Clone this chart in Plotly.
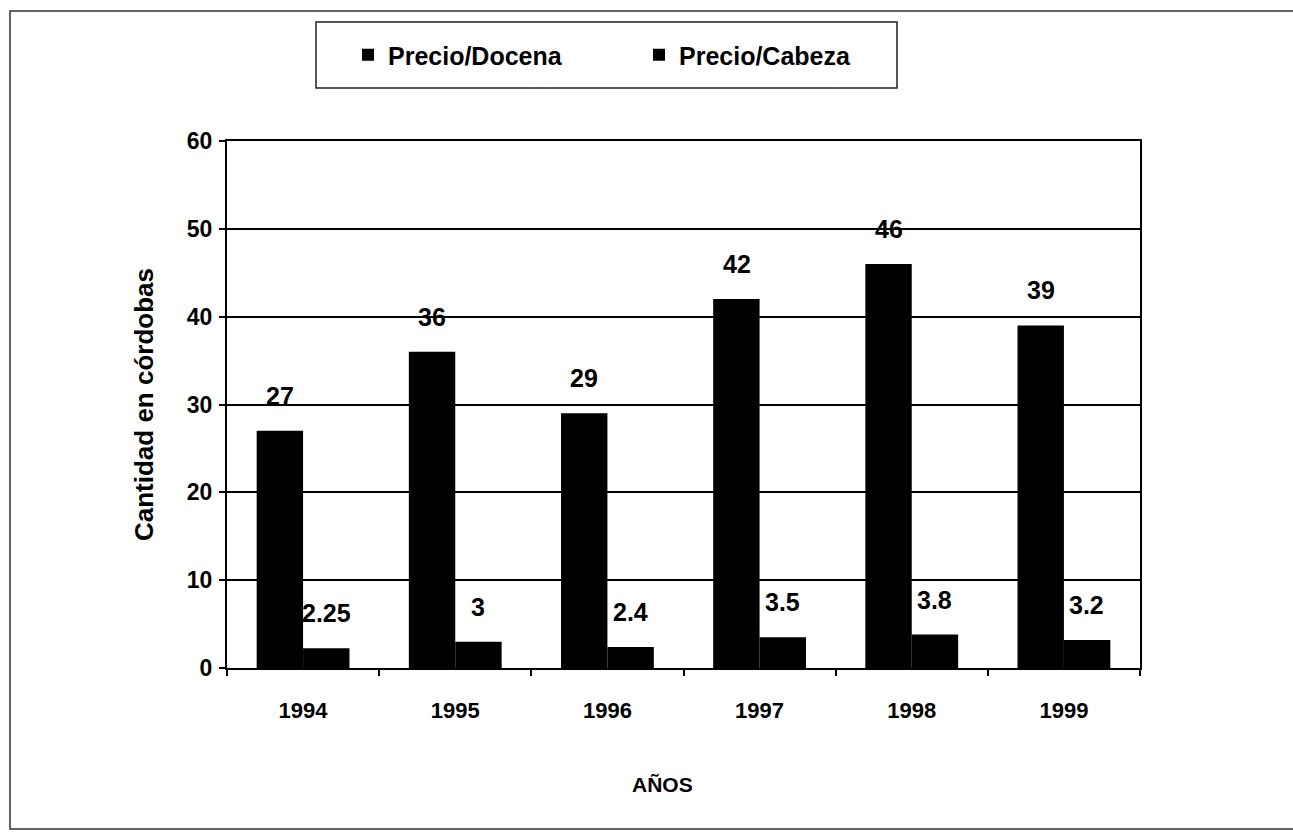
import plotly.graph_objects as go

# Chart data
years = ["1994", "1995", "1996", "1997", "1998", "1999"]
precio_docena = [27, 36, 29, 42, 46, 39]
precio_cabeza = [2.25, 3, 2.4, 3.5, 3.8, 3.2]
series_names = ["Precio/Docena", "Precio/Cabeza"]
y_ticks = [0, 10, 20, 30, 40, 50, 60]

W, H = 1293, 832
L, R, T, B = 227, 153, 141, 164
PW, PH = W - L - R, H - T - B

FONT = "Liberation Sans, Arial, sans-serif"


def px_x(px):
    return (px - L) / PW


def px_y(py):
    return (H - B - py) / PH


fig = go.Figure()
for name, vals in zip(series_names, [precio_docena, precio_cabeza]):
    fig.add_trace(go.Bar(
        x=years, y=vals, name=name,
        marker=dict(color="black", line=dict(width=0)),
    ))

# value labels above each bar (category index positions on the x axis)
annotations = []
for k, vals in enumerate([precio_docena, precio_cabeza]):
    for i, v in enumerate(vals):
        annotations.append(dict(
            x=i, y=v, xref="x", yref="y", text=f"{v:g}",
            showarrow=False, xanchor="center", yanchor="bottom",
            xshift=-23 if k == 0 else 23, yshift=19,
            font=dict(family=FONT, size=25, color="black", weight="bold"),
        ))

# x axis title
annotations.append(dict(
    x=px_x(662), y=px_y(784), xref="paper", yref="paper", text="AÑOS",
    showarrow=False, xanchor="center", yanchor="middle",
    font=dict(family=FONT, size=21, color="black", weight="bold"),
))

shapes = [
    # outer frame
    dict(type="rect", xref="paper", yref="paper",
         x0=px_x(10), x1=px_x(1310), y0=px_y(829), y1=px_y(11),
         line=dict(color="#333", width=1.5), layer="below"),
    # legend box
    dict(type="rect", xref="paper", yref="paper",
         x0=px_x(316), x1=px_x(897), y0=px_y(88), y1=px_y(22),
         line=dict(color="#222", width=1.5), layer="below"),
]

fig.update_layout(
    width=W, height=H,
    margin=dict(l=L, r=R, t=T, b=B, pad=0),
    paper_bgcolor="white", plot_bgcolor="white",
    barmode="group", bargap=0.39, bargroupgap=0,
    font=dict(family=FONT, color="black"),
    showlegend=True,
    legend=dict(
        orientation="h", x=px_x(348), y=px_y(32), xanchor="left", yanchor="top",
        font=dict(family=FONT, size=25, color="black", weight="bold"),
        entrywidth=246, entrywidthmode="pixels",
        bgcolor="rgba(0,0,0,0)", borderwidth=0,
    ),
    annotations=annotations,
    shapes=shapes,
    xaxis=dict(
        type="category", categoryorder="array", categoryarray=years,
        range=[-0.5, len(years) - 0.5],
        showline=True, linecolor="black", linewidth=2, mirror=True,
        ticks="outside", tickson="boundaries", ticklen=6, tickwidth=1.5, tickcolor="black",
        tickfont=dict(family=FONT, size=22, color="black", weight="bold"),
        ticklabelstandoff=22,
        showgrid=False,
    ),
    yaxis=dict(
        range=[0, 60], tickvals=y_ticks,
        showline=True, linecolor="black", linewidth=2, mirror=True,
        ticks="outside", ticklen=6, tickwidth=1.5, tickcolor="black",
        tickfont=dict(family=FONT, size=23, color="black", weight="bold"),
        ticklabelstandoff=2,
        showgrid=True, gridcolor="black", gridwidth=1.5,
        zeroline=False,
        title=dict(text="Cantidad en córdobas", standoff=26,
                   font=dict(family=FONT, size=26, color="black", weight="bold")),
    ),
)

fig.write_html("out.html")
